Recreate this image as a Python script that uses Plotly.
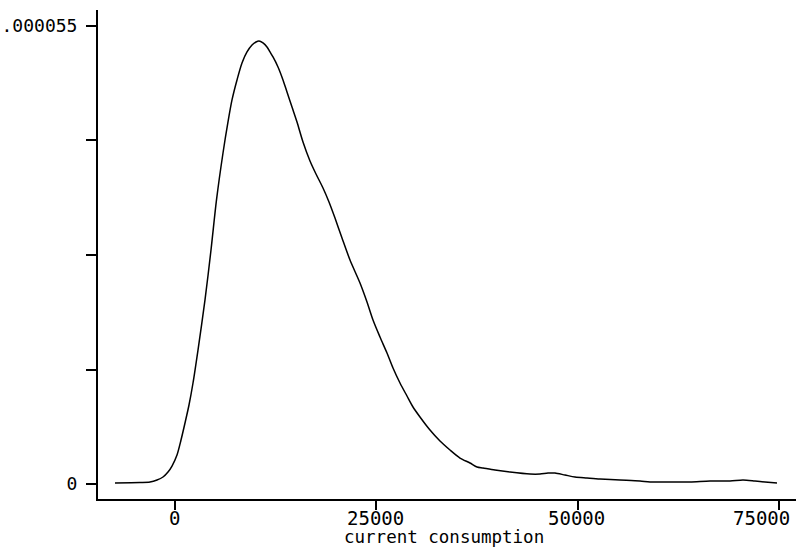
import plotly.graph_objects as go

# Kernel density of current consumption
consumption = [-7450, -4346, -3104, -2235, -1490, -869, -373, 248, 745, 1242, 1738, 2235,
               2856, 3725, 4470, 5153, 5960, 6581, 7078, 7699, 8319, 8940, 9561,
               10058, 10430, 10927, 11424, 11796, 12169, 12790, 13410, 13907, 14528,
               15149, 15894, 16763, 17508, 18377, 19122, 19867, 20736, 21730, 22972,
               23841, 24586, 25455, 26324, 27069, 27938, 28807, 29552, 30421, 31663,
               32904, 34146, 35388, 36630, 37499, 38244, 39734, 41597, 44080, 45322,
               46315, 47185, 48426, 49668, 51158, 52772, 55256, 57739, 58981, 61464,
               63948, 66431, 68915, 70529, 72019, 73260, 74750]
density_e6 = [0.12, 0.18, 0.24, 0.48, 0.84, 1.44, 2.16, 3.48, 5.28, 7.33, 9.49, 12.13,
              16.09, 22.10, 28.10, 34.11, 39.75, 43.48, 46.12, 48.52, 50.56, 51.88, 52.72,
              53.08, 53.20, 52.96, 52.48, 51.88, 51.28, 50.08, 48.52, 47.08, 45.27,
              43.47, 41.07, 38.79, 37.23, 35.55, 33.87, 31.94, 29.54, 26.90, 24.14,
              21.86, 19.70, 17.65, 15.73, 13.93, 12.13, 10.57, 9.25, 8.05, 6.48,
              5.16, 4.08, 3.12, 2.52, 2.04, 1.92, 1.68, 1.44, 1.20, 1.20,
              1.32, 1.32, 1.08, 0.84, 0.72, 0.60, 0.48, 0.36, 0.24, 0.24,
              0.24, 0.36, 0.36, 0.48, 0.36, 0.24, 0.12]
density = [v * 1e-6 for v in density_e6]

x_ticks = [0, 25000, 50000, 75000]
x_tick_labels = ["0", "25000", "50000", "75000"]
y_ticks = [0, 0.00001375, 0.0000275, 0.00004125, 0.000055]
y_tick_labels = ["0", "", "", "", ".000055"]
x_title = "current consumption"

font_family = "DejaVu Sans Mono"

fig = go.Figure()
fig.add_trace(go.Scatter(
    x=consumption, y=density, mode="lines",
    line=dict(color="black", width=1.5, shape="spline", smoothing=0.8),
    showlegend=False, hoverinfo="skip",
))

fig.update_layout(
    width=796, height=549,
    margin=dict(l=98, r=0, t=10, b=50),
    paper_bgcolor="white", plot_bgcolor="white",
    font=dict(family=font_family, color="black", size=17),
)
fig.update_xaxes(
    range=[-9561, 77110],
    tickvals=x_ticks, showticklabels=False,
    ticks="outside", ticklen=9, tickwidth=2, tickcolor="black",
    showline=True, linecolor="black", linewidth=2,
    showgrid=False, zeroline=False,
)
fig.update_yaxes(
    range=[-0.0000018, 0.00005692],
    tickvals=y_ticks, ticktext=y_tick_labels,
    ticks="outside", ticklen=10, tickwidth=2, tickcolor="black",
    showline=True, linecolor="black", linewidth=2,
    showgrid=False, zeroline=False,
    tickfont=dict(size=18, family=font_family),
    ticklabelstandoff=5,
)

# x tick labels as text placed under their ticks (last one kept inside the page)
for i, (val, lab) in enumerate(zip(x_ticks, x_tick_labels)):
    last = i == len(x_ticks) - 1
    fig.add_annotation(
        x=val, xref="x", y=0, yref="paper",
        text=lab, showarrow=False,
        xanchor="right" if last else "center",
        xshift=13 if last else -1,
        yanchor="middle", yshift=-19,
        font=dict(size=19, family=font_family, color="black"),
    )

fig.add_annotation(
    x=0.495, xref="paper", y=0, yref="paper",
    text=x_title, showarrow=False,
    xanchor="center", yanchor="middle", yshift=-38,
    font=dict(size=17.5, family=font_family, color="black"),
)

fig.write_html("out.html")
